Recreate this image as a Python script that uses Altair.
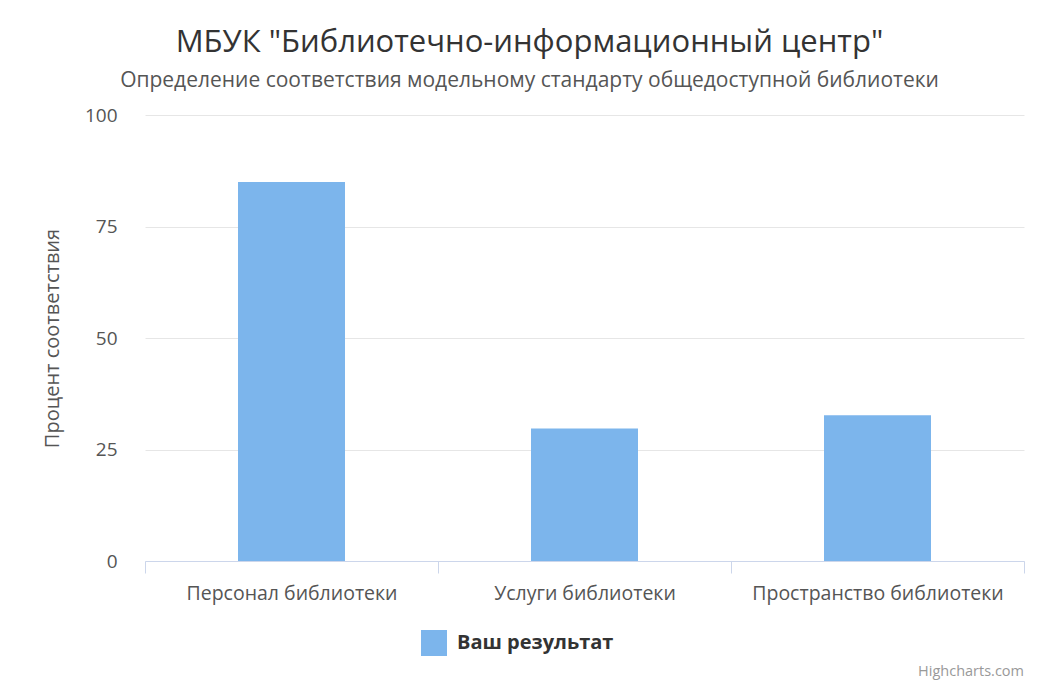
import altair as alt
import pandas as pd

categories = ["Персонал библиотеки", "Услуги библиотеки", "Пространство библиотеки"]
values = [85, 29.7, 32.7]
series_name = "Ваш результат"
y_ticks = [0, 25, 50, 75, 100]

df = pd.DataFrame({"category": categories, "value": values, "series": [series_name] * len(categories)})

W, H = 879, 446
FONT = "Open Sans"

bars = alt.Chart(df).mark_bar(size=107).encode(
    x=alt.X("category:N", sort=categories, title=None,
            scale=alt.Scale(paddingInner=0, paddingOuter=0),
            axis=alt.Axis(labelAngle=0, labelFontSize=19.5, labelColor="#555", labelFont=FONT,
                          labelPadding=11, labelLimit=0, tickBand="extent", tickSize=12,
                          tickColor="#ccd6eb", domainColor="#ccd6eb", grid=False)),
    y=alt.Y("value:Q", title="Процент соответствия",
            scale=alt.Scale(domain=[0, 100]),
            axis=alt.Axis(values=y_ticks, domain=False, ticks=False, labelFontSize=19, labelColor="#555",
                          labelFont=FONT, labelPadding=28, gridColor="#e6e6e6",
                          titleFont=FONT, titleFontSize=20, titleColor="#555", titleFontWeight="normal",
                          titlePadding=22)),
    color=alt.Color("series:N", scale=alt.Scale(range=["#7cb5ec"]),
                    legend=alt.Legend(title=None, orient="none", legendX=276, legendY=515,
                                      symbolType="square", symbolSize=676, symbolStrokeWidth=0,
                                      labelFontSize=20, labelFontWeight="bold", labelColor="#333",
                                      labelFont=FONT, labelOffset=10)),
)

credit = alt.Chart(pd.DataFrame({"t": ["Highcharts.com"]})).mark_text(
    align="right", baseline="alphabetic", fontSize=14.5, color="#999", font=FONT
).encode(text="t:N", x=alt.value(W), y=alt.value(561))

chart = alt.layer(bars, credit).properties(
    width=W, height=H,
    title=alt.TitleParams(
        text='МБУК "Библиотечно-информационный центр"',
        subtitle="Определение соответствия модельному стандарту общедоступной библиотеки",
        anchor="middle", dx=-55, font=FONT, fontSize=31, fontWeight="normal", color="#333",
        subtitleFont=FONT, subtitleFontSize=21, subtitleColor="#555", subtitlePadding=11, offset=14),
    autosize=alt.AutoSizeParams(type="none"),
    padding={"left": 137, "top": 107, "right": 6, "bottom": 119},
).configure_view(stroke=None)

chart.save("out.html", embed_options={"renderer": "svg", "actions": False})
